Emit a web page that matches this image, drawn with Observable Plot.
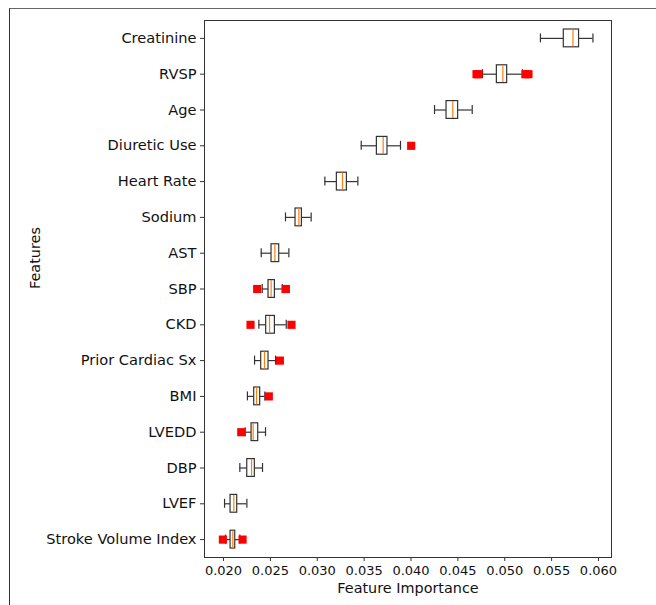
<!DOCTYPE html>
<html>
<head>
<meta charset="utf-8">
<script src="https://cdn.jsdelivr.net/npm/d3@7"></script>
<script src="https://cdn.jsdelivr.net/npm/@observablehq/plot@0.6"></script>
<style>
  html, body { margin: 0; padding: 0; background: #fff; }
  #wrap { position: relative; width: 656px; height: 605px; overflow: hidden; }
  #border { position: absolute; left: 9px; top: 8px; width: 660px; height: 610px;
            border-top: 1.5px solid #666; border-left: 1.5px solid #333; box-sizing: border-box; }
  #chart { position: absolute; left: 0; top: 0; }
</style>
</head>
<body>
<div id="wrap"><div id="border"></div><div id="chart"></div></div>
<script>
const features = ["Creatinine","RVSP","Age","Diuretic Use","Heart Rate","Sodium","AST","SBP","CKD","Prior Cardiac Sx","BMI","LVEDD","DBP","LVEF","Stroke Volume Index"];
const whiskerLow  = [0.05381,0.04763,0.04251,0.03469,0.03081,0.02661,0.02402,0.02413,0.02377,0.02331,0.02255,0.02231,0.02174,0.02011,0.02021];
const q1          = [0.05630,0.04916,0.04379,0.03636,0.03209,0.02768,0.02512,0.02480,0.02455,0.02402,0.02327,0.02299,0.02253,0.02075,0.02075];
const median      = [0.05728,0.04980,0.04446,0.03703,0.03269,0.02804,0.02548,0.02508,0.02491,0.02437,0.02352,0.02316,0.02299,0.02110,0.02099];
const q3          = [0.05793,0.05026,0.04503,0.03749,0.03316,0.02836,0.02594,0.02548,0.02548,0.02480,0.02391,0.02370,0.02334,0.02146,0.02125];
const whiskerHigh = [0.05941,0.05189,0.04653,0.03888,0.03433,0.02935,0.02697,0.02626,0.02669,0.02555,0.02441,0.02448,0.02416,0.02249,0.02174];

const outlierFeature = ["RVSP","RVSP","RVSP","RVSP","Diuretic Use","SBP","SBP","CKD","CKD","Prior Cardiac Sx","BMI","LVEDD","Stroke Volume Index","Stroke Volume Index"];
const outlierValue   = [0.04699,0.04720,0.05221,0.05253,0.04002,0.02359,0.02665,0.02288,0.02725,0.02601,0.02483,0.02189,0.01993,0.02203];

const xTicks = [0.020,0.025,0.030,0.035,0.040,0.045,0.050,0.055,0.060];

const boxes = features.map((f, i) => ({feature: f, lo: whiskerLow[i], q1: q1[i], med: median[i], q3: q3[i], hi: whiskerHigh[i]}));
const outliers = outlierFeature.map((f, i) => ({feature: f, value: outlierValue[i]}));

const stroke = "#333";
const font = "DejaVu Sans, sans-serif";

const chart = Plot.plot({
  width: 656,
  height: 605,
  marginLeft: 204,
  marginRight: 45,
  marginTop: 20,
  marginBottom: 48,
  style: {fontFamily: font, fontSize: "13px", color: "#111", background: "transparent"},
  x: {domain: [0.01797, 0.06139], ticks: xTicks, tickFormat: d3.format(".3f"), label: null},
  y: {domain: features, padding: 0, round: false, label: null},
  marks: [
    Plot.frame({stroke: stroke, strokeWidth: 1}),
    Plot.axisX({ticks: xTicks, tickFormat: d3.format(".3f"), tickSize: 4, tickPadding: 4, fontSize: 13, label: null, stroke: stroke}),
    Plot.axisY({tickSize: 4, tickPadding: 4, fontSize: 14.6, label: null, stroke: stroke}),
    Plot.ruleY(boxes, {y: "feature", x1: "lo", x2: "q1", stroke: stroke, strokeWidth: 1.2}),
    Plot.ruleY(boxes, {y: "feature", x1: "q3", x2: "hi", stroke: stroke, strokeWidth: 1.2}),
    Plot.tickX(boxes, {y: "feature", x: "lo", stroke: stroke, strokeWidth: 1.2, insetTop: 13.4, insetBottom: 13.4}),
    Plot.tickX(boxes, {y: "feature", x: "hi", stroke: stroke, strokeWidth: 1.2, insetTop: 13.4, insetBottom: 13.4}),
    Plot.barX(boxes, {y: "feature", x1: "q1", x2: "q3", fill: "white", stroke: stroke, strokeWidth: 1.2, insetTop: 9, insetBottom: 9}),
    Plot.tickX(boxes, {y: "feature", x: "med", stroke: "#ff7f0e", strokeWidth: 1.2, insetTop: 9.5, insetBottom: 9.5}),
    Plot.dot(outliers, {y: "feature", x: "value", symbol: "square", r: 4.6, fill: "red", stroke: "none"}),
    Plot.text(["Feature Importance"], {frameAnchor: "bottom", dy: 35, fontSize: 14.4, fill: "#111"}),
    Plot.text(["Features"], {frameAnchor: "left", dx: -169, rotate: -90, fontSize: 14.4, fill: "#111"})
  ]
});
document.getElementById("chart").appendChild(chart);
</script>
</body>
</html>
